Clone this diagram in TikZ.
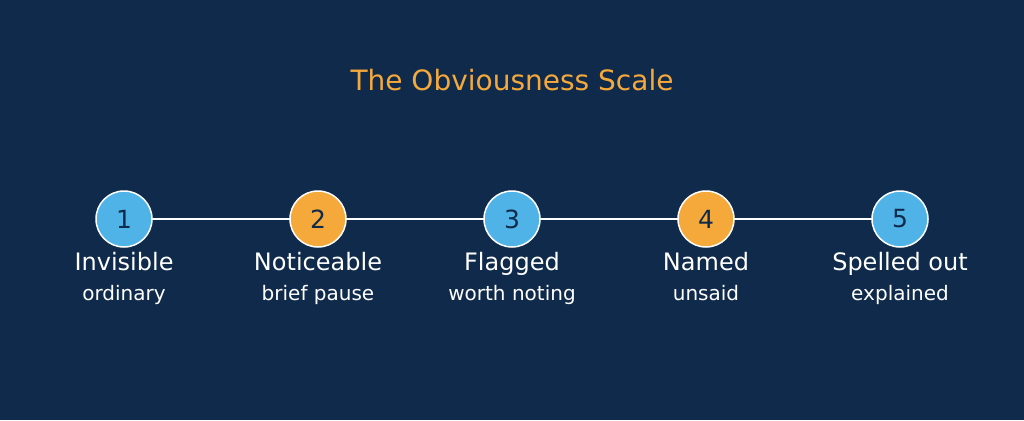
\documentclass[tikz,border=0pt]{standalone}
\usepackage{fontspec}
\setmainfont{DejaVu Sans}
\definecolor{bgnavy}{HTML}{0F2A4A}
\definecolor{stepblue}{HTML}{4FB3E8}
\definecolor{steporange}{HTML}{F5A93B}
\tikzset{
    step-dot/.style = {circle, draw=white, line width=1.5pt, minimum size=56pt, inner sep=0pt, text=bgnavy, font=\fontsize{25}{30}\selectfont},
    step-name/.style = {anchor=base, text=white, font=\fontsize{24}{28}\selectfont},
    step-note/.style = {anchor=base, text=white, font=\fontsize{20}{24}\selectfont},
}
\begin{document}
\begin{tikzpicture}[x=1pt,y=-1pt]
\fill[bgnavy] (0,0) rectangle (1024,420);
\useasboundingbox (0,0) rectangle (1024,420);
\node[anchor=base, text=steporange, font=\fontsize{28}{34}\selectfont] (title) at (512,90) {The Obviousness Scale};
\coordinate (s1) at (124,219);
\coordinate (s5) at (900,219);
\draw[white, line width=2pt] (s1) -- (s5);
\foreach \i/\x/\c/\name/\note in {1/124/stepblue/Invisible/ordinary, 2/318/steporange/Noticeable/brief pause, 3/512/stepblue/Flagged/worth noting, 4/706/steporange/Named/unsaid, 5/900/stepblue/Spelled out/explained}{
    \node[step-dot, fill=\c] (dot\i) at (\x,219) {\i};
    \node[step-name] (name\i) at (\x,270) {\name};
    \node[step-note] (note\i) at (\x,300) {\note};
}
\end{tikzpicture}
\end{document}
